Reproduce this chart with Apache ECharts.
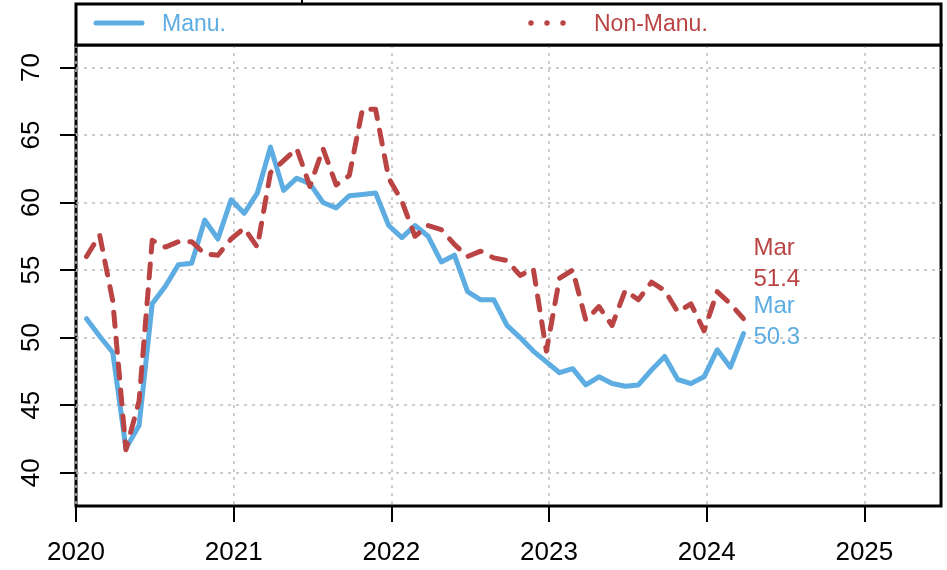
<!DOCTYPE html>
<html><head><meta charset="utf-8">
<script src="https://cdn.jsdelivr.net/npm/echarts@6/dist/echarts.min.js"></script>
<style>html,body{margin:0;padding:0;background:#fff}#c{width:947px;height:570px}</style>
</head><body><div id="c"></div>
<script>
const months = [
 '2020-01','2020-02','2020-03','2020-04','2020-05','2020-06','2020-07','2020-08','2020-09','2020-10','2020-11','2020-12',
 '2021-01','2021-02','2021-03','2021-04','2021-05','2021-06','2021-07','2021-08','2021-09','2021-10','2021-11','2021-12',
 '2022-01','2022-02','2022-03','2022-04','2022-05','2022-06','2022-07','2022-08','2022-09','2022-10','2022-11','2022-12',
 '2023-01','2023-02','2023-03','2023-04','2023-05','2023-06','2023-07','2023-08','2023-09','2023-10','2023-11','2023-12',
 '2024-01','2024-02','2024-03'];
const manu = [
 51.4,50.1,48.9,41.8,43.5,52.5,53.8,55.4,55.5,58.7,57.3,60.2,
 59.2,60.7,64.1,60.9,61.8,61.4,60.0,59.6,60.5,60.6,60.7,58.3,
 57.4,58.3,57.5,55.6,56.1,53.4,52.8,52.8,50.9,50.0,49.0,48.2,
 47.4,47.7,46.5,47.1,46.6,46.4,46.5,47.6,48.6,46.9,46.6,47.1,
 49.1,47.8,50.3];
const nonManu = [
 56.0,57.6,52.7,41.7,45.3,57.2,56.7,57.1,57.1,56.2,56.1,57.3,
 58.1,56.7,62.2,63.1,64.0,61.2,64.0,61.3,62.0,66.9,66.9,61.8,
 60.1,57.5,58.3,58.0,56.9,56.0,56.4,55.9,55.7,54.6,55.1,49.0,
 54.4,55.0,51.3,52.3,50.9,53.5,52.8,54.1,53.5,51.9,52.5,50.5,
 53.4,52.5,51.4];
const xTicks = [2020,2021,2022,2023,2024,2025];
const yTicks = [40,45,50,55,60,65,70];
const seriesNames = ['Manu.','Non-Manu.'];
const monthNames = ['Jan','Feb','Mar','Apr','May','Jun','Jul','Aug','Sep','Oct','Nov','Dec'];

const BLUE = '#5DADE2', RED = '#BA4444';
const FONT = 'Liberation Sans, Arial, sans-serif';
function toX(s){const p=s.split('-');return +p[0]+(+p[1]-0.2)/12;}
function pairs(vals){return vals.map((v,i)=>[toX(months[i]),v]);}
const lastMonth = monthNames[+months[months.length-1].split('-')[1]-1];

const chart = echarts.init(document.getElementById('c'), null, {renderer:'canvas'});
chart.setOption({
  animation:false,
  backgroundColor:'#fff',
  grid:{left:76,right:6,top:45,bottom:64,show:true,borderColor:'#000',borderWidth:3,backgroundColor:'transparent'},
  xAxis:{type:'value',min:2020,max:2025.486,
    axisLine:{show:false},
    axisTick:{show:true,customValues:xTicks,length:16,lineStyle:{color:'#000',width:2}},
    axisLabel:{customValues:xTicks,fontSize:26,color:'#000',fontFamily:FONT,margin:34,formatter:v=>String(v)},
    splitLine:{show:true,lineStyle:{color:'#bdbdbd',width:1.5,type:[3,5]}}},
  yAxis:{type:'value',min:37.535,max:71.66,
    axisLine:{show:false},
    axisTick:{show:true,customValues:yTicks,length:16,lineStyle:{color:'#000',width:2}},
    axisLabel:{customValues:yTicks,rotate:90,fontSize:26,color:'#000',fontFamily:FONT,margin:31,formatter:v=>String(v)},
    splitLine:{show:true,lineStyle:{color:'#bdbdbd',width:1.5,type:[3,5]}}},
  series:[
    {name:seriesNames[0],type:'line',data:pairs(manu),showSymbol:false,
     lineStyle:{color:BLUE,width:5,cap:'round',join:'round'},
     endLabel:{show:true,formatter:()=>lastMonth+'\n'+manu[manu.length-1].toFixed(1),
       color:BLUE,fontSize:24,fontFamily:FONT,lineHeight:31,distance:10,offset:[0,-12],align:'left',verticalAlign:'middle'}},
    {name:seriesNames[1],type:'line',data:pairs(nonManu),showSymbol:false,
     lineStyle:{color:RED,width:5,type:[14,12],cap:'round',join:'round'},
     endLabel:{show:true,formatter:()=>lastMonth+'\n'+nonManu[nonManu.length-1].toFixed(1),
       color:RED,fontSize:24,fontFamily:FONT,lineHeight:31,distance:10,offset:[0,-55],align:'left',verticalAlign:'middle'}}
  ],
  graphic:[
    {type:'line',shape:{x1:302,y1:0,x2:302,y2:4},style:{stroke:'#000',lineWidth:2},z:100},
    {type:'rect',shape:{x:76,y:4,width:865,height:41},style:{fill:'#fff',stroke:'#000',lineWidth:3},z:100},
    {type:'line',shape:{x1:96,y1:23,x2:142,y2:23},style:{stroke:BLUE,lineWidth:5,lineCap:'round'},z:101},
    {type:'text',x:162,y:25,style:{text:seriesNames[0],fill:BLUE,font:'23px '+FONT,textVerticalAlign:'middle'},z:101},
    {type:'circle',shape:{cx:531,cy:23,r:2.7},style:{fill:RED},z:101},
    {type:'circle',shape:{cx:547,cy:23,r:2.7},style:{fill:RED},z:101},
    {type:'circle',shape:{cx:563,cy:23,r:2.7},style:{fill:RED},z:101},
    {type:'text',x:594,y:25,style:{text:seriesNames[1],fill:RED,font:'23px '+FONT,textVerticalAlign:'middle'},z:101}
  ]
});
</script></body></html>
